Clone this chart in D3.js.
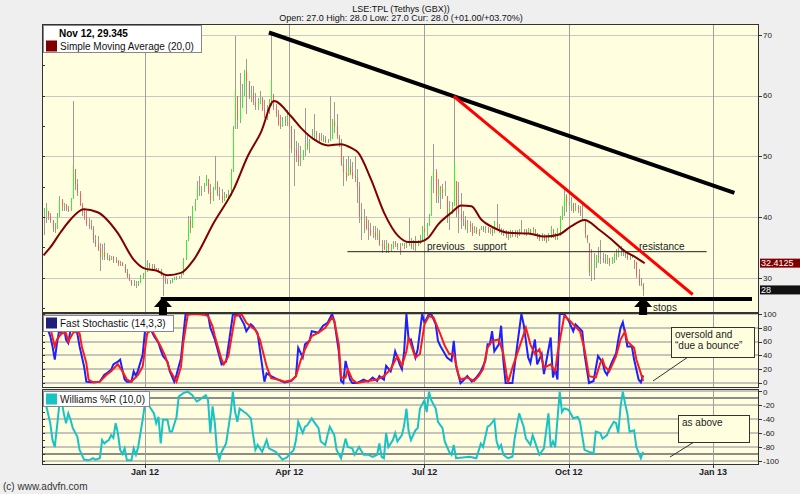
<!DOCTYPE html>
<html><head><meta charset="utf-8">
<script src="https://cdn.jsdelivr.net/npm/d3@7"></script>
<style>
body{margin:0;background:#efefef;}
svg{display:block;font-family:"Liberation Sans",Arial,sans-serif;}
</style>
</head><body>
<svg id="c" width="800" height="494"></svg>
<script>
// ---------- DATA (bar index = trading day from first bar) ----------
const highs = [
41.5,42.4,41,40.7,39.6,39,40.7,43.5,43,42.4,
42.2,41.8,43.2,59.1,48,46.2,44.3,42.4,41.5,41,
39.8,39.6,38.5,37,36.9,35.8,35.5,35.8,34.1,33.8,
33.6,33.6,33.4,33,32.8,32.6,32.2,31.4,30.6,29.7,
29.7,29.4,29.4,30.5,30.8,31.4,33,32.5,32.3,32.2,
31.6,31.6,31.4,30.5,30.3,29.8,29.6,29.9,30.2,30.3,
30.3,30.6,33.3,36.3,40.2,40.2,41.8,43,46,46.8,
45.1,45.6,47,46.2,45.4,45,50,46,45,44.6,
44.1,43.8,44.5,47.9,55,69.8,60,63.8,62,64.3,
66,62.4,61.6,61.6,60.5,59.6,60.8,59.7,59.3,58.5,
59.5,70.4,60.2,58.6,57.7,56.8,56.5,56.6,57.7,57,
55,54.5,52.5,52.2,51.7,51.1,58,53.5,52.8,54.5,
56.9,54.2,53.9,53.9,53.6,53.3,52.8,59.9,56.1,58.9,
56.9,53.5,52.8,50,49.5,50,49.6,49,50,47.9,
45.7,42.4,41.3,40.2,39.6,39.1,38.6,38.5,38.2,37.9,
36.3,36.2,36.3,35.8,35.6,36.1,36,35.8,35.8,35.8,
35.8,36,39.9,36.6,36.2,36.9,36.3,37,38.5,39.9,
39.1,40.5,46.8,52,48,46.2,45.1,45.5,46,43.5,
42.7,42.5,59.7,46,45.7,44,41,40.2,39.6,39.3,
39.1,38.5,38.3,38,38.5,38.6,38.5,38.3,38.2,38.5,
39.4,42.1,38.8,38.2,38,37.9,37.7,37.9,37.8,37.9,
37.8,38,39.6,38,38,38.2,38,38.3,38,37.4,
37.2,37.4,37.2,37,37.4,38.5,38,37.4,38.2,40.2,
41.8,44.6,43.8,42.9,43.3,42.4,42.4,42,41.8,42.4,
39.6,37,35.8,34.7,34.1,33.8,35,36.3,34.1,33.9,
33.8,33.3,33.5,34.1,34.7,34.9,35.2,34.7,34.4,34.1,
33.8,33.8,33,32.6,31.4,30,29.2];
const lows = [
37,39,39.5,39,37.5,37.4,38,40,41,41,
41,40.8,41,43,44.5,43.5,41.8,40.2,39.6,38.5,
38,37.9,35.8,35,34.4,31.1,33,33,33,32.8,
32.9,32.5,32.5,32,31.9,31.9,30.8,30,29.4,28.6,
28.6,28.4,28.6,29.2,29.8,30.3,31,31.4,31.5,31.4,
31.1,30.8,30.3,27,29,28.9,28.9,29.2,29.6,29.7,
29.8,30,30.5,33,36,37.4,38.2,41,42.8,43.5,
43.5,44.2,45.1,43.8,42.1,42.6,44.5,43.5,42.8,42.4,
42.7,43.2,43,43.5,47.5,54.5,54.5,55.5,58,60,
56.9,59.4,59,58.5,57.7,57.7,58.6,57.5,56.3,56,
56.9,58.3,57.7,56.5,55,54.5,54.8,55,55,54.5,
50.6,45.1,49,48.4,48.4,49.4,50,51,50.6,53,
52.8,52.5,52.2,52.5,52.3,52.2,52.2,52.5,52.8,53.9,
52.8,51.5,48.4,45.1,46,46.8,47,46.2,45.7,42.4,
39.1,36.3,37.4,37.9,36.3,36.9,36.5,36.3,36.3,35.2,
34.1,34.5,34.1,34.1,34.4,34.7,35,34.5,33.8,35.2,
34.8,34.9,35.2,34.7,34.6,34.4,35.2,35.6,36.3,36.3,
36.9,38.5,40.2,44,42.4,42.4,41.3,43,43.5,39.1,
37.9,40.5,41.8,40,37.4,38,38.6,37.9,37.4,37.6,
36.9,37.4,37.2,36.9,37.9,37.5,37.4,37.4,37.2,36.9,
37.3,38,37.4,37.1,36.9,36.6,36.3,36.6,36.8,36.7,
36.6,36.9,37.4,37,36.9,37.2,37.1,37,37.2,36.4,
36,36,36.1,35.8,36,36.6,36.6,36.3,36.3,36.9,
39.6,40.2,40.8,41.3,41,40.7,41,40.6,40.2,39.6,
36.6,35.8,30.3,29.5,29.7,31.6,32.5,32.2,32.5,32.3,
32.2,31.9,32.3,32.5,33,33.4,33.6,33.6,33.3,33,
33,33.3,31.4,30,28.6,28.6,27];
const closes = [
40.5,41.5,40.2,39.5,38,37.8,40,42.8,41.8,42,
41.3,41,43,48.4,45.5,44,42,40.8,40,38.8,
38.5,38.2,36.2,35.4,34.8,33.5,34.2,33.4,33.2,33,
33.5,33,32.8,32.2,32.4,32,31,30.2,29.6,29,
28.8,29,29.2,30.2,30.4,31.2,32.6,31.8,32,31.6,
31.3,31,30.5,29.8,29.3,29.1,29.2,29.6,30,29.9,
30.2,30.5,33,36,39.5,38.2,41.5,42.5,45,44.6,
44.8,45.2,46.6,44.2,42.8,44.5,45.6,43.8,43.5,42.8,
43.6,43.3,43.8,47.5,54.5,61,56,58,60.5,64,
62.4,59.8,60.5,59,58.2,58.8,59.6,57.8,56.6,57.5,
59.2,62.6,58.2,57,55.4,55,56,55.6,56.8,55,
51.2,51,50,49,49.4,51,52,51.6,52.5,53.6,
53.8,53.5,52.6,53,52.8,52.5,52.6,53,55.8,55,
53.2,52,48.8,47.5,46.5,48.2,47.5,46.8,46.4,45,
40,39.5,39.8,38.2,37.8,37.2,37.6,36.8,37.3,35.5,
35.2,34.8,35.6,34.6,35,35.8,35.6,35,34.4,35.4,
35.2,35.6,35.6,35,35.5,35.2,35.8,36.6,38.2,37.5,
38.8,40.2,46.2,47.5,43.5,45,44.6,44,44.8,40,
41.5,41.8,48.9,42,40.5,39.5,39.4,38.2,38.8,38.4,
37.2,38,37.5,37.2,38.4,37.9,37.8,37.6,37.9,37.3,
39.2,38.4,37.8,37.4,37.6,36.9,36.8,37.4,37.1,37.6,
37,37.5,37.8,37.8,37.6,38,37.4,38.1,37.6,36.7,
36.4,36.8,36.3,36.1,36.6,38.2,37,36.6,37.8,40,
41.6,43.5,42.5,42,42.6,41,41.6,41.2,40.6,40.8,
37.2,36.2,31,32,32.4,33.6,33.4,33.2,33,32.6,
33.2,32.4,33.2,34,33.6,34.5,35,34.2,33.6,33.3,
33.4,33.5,32.6,30.4,29,28.8,28];

// Simple Moving Average (20,0): [bar index, value]
const sma20 = [[0,33.7],[3,35],[7.6,37.5],[12,39.6],[17.8,41.3],[24,40.8],[32.9,37.4],[40,33],[44.4,31.6],[50.7,31.1],[55,30.4],[61,30.8],[66.7,33],[75.6,39.1],[84.4,44.6],[90.7,50.1],[96.4,53.9],[102.2,59.1],[109.8,56.6],[114.2,54.7],[120,52.8],[126.2,51.8],[132,52],[136.4,51.4],[139.6,50.6],[145.3,46.2],[151.1,40.7],[157.3,36.9],[161.8,35.9],[166.2,35.9],[170.7,36.6],[175.1,38.8],[180.9,40.7],[185.3,41.9],[189.8,41.8],[194.2,39.6],[200,38.2],[206.2,37.4],[215.1,37.3],[222.2,36.8],[228.4,37.1],[234.2,38.5],[240,39.5],[246.2,38],[252,36.3],[257.8,34.4],[262.2,33.5],[266.7,32.4]];

// Fast Stochastic (14,3,3)
const stochK = [[0,99],[1,92],[2,77],[3,68],[4,53],[5,34],[6,58],[7,77],[8,72],[9,82],[10,63],[11,58],[12,77],[13,80],[15,72],[16,53],[18,24],[19,2],[21,1],[23,1],[25,2],[27,12],[28,14],[30,19],[31,27],[33,31],[34,34],[35,19],[36,5],[37,2],[39,2],[40,17],[41,10],[42,19],[44,41],[45,75],[46,80],[48,75],[49,68],[51,58],[52,48],[53,39],[55,31],[56,17],[58,2],[59,12],[61,36],[62,68],[63,99],[65,100],[70,100],[73,99],[74,80],[75,72],[76,63],[78,39],[79,27],[81,31],[82,53],[84,99],[86,100],[87,97],[89,85],[90,75],[92,85],[93,82],[95,72],[96,48],[98,2],[99,14],[101,10],[104,5],[107,1],[110,3],[112,10],[113,51],[115,37],[116,56],[118,61],[119,75],[122,73],[124,83],[126,87],[128,100],[129,90],[131,46],[132,3],[133,0],[134,32],[136,5],[137,0],[139,0],[142,5],[144,2],[146,8],[148,3],[149,10],[151,5],[152,25],[154,17],[155,29],[156,46],[158,27],[159,20],[160,46],[161,100],[162,61],[163,63],[165,37],[166,49],[167,75],[168,100],[169,87],[171,100],[172,100],[174,85],[175,61],[176,54],[179,37],[181,32],[182,61],[183,25],[185,0],[186,3],[188,10],[190,2],[192,8],[194,17],[196,32],[197,56],[198,56],[199,75],[200,46],[202,56],[203,83],[204,32],[205,0],[208,0],[210,51],[212,100],[213,85],[215,37],[216,29],[218,63],[219,27],[221,42],[222,13],[225,66],[226,8],[227,20],[228,5],[229,100],[231,100],[233,90],[235,75],[236,85],[239,75],[240,42],[242,0],[244,3],[246,39],[248,30],[249,17],[250,12],[252,29],[254,43],[255,63],[256,80],[257,88],[258,72],[259,53],[261,53],[262,34],[264,5],[265,1],[266,11]];
const stochD = [[0,99],[2,94],[3,80],[5,53],[6,63],[8,72],[10,72],[11,60],[13,72],[14,75],[16,72],[17,53],[19,29],[20,5],[22,1],[25,2],[28,12],[30,17],[32,24],[33,27],[35,17],[37,5],[39,2],[42,12],[44,24],[46,72],[48,77],[50,65],[52,53],[54,39],[56,19],[59,2],[61,24],[62,58],[64,99],[67,100],[71,99],[73,97],[75,82],[76,68],[79,34],[80,27],[82,39],[85,97],[88,99],[90,87],[92,82],[94,77],[96,63],[99,24],[101,7],[104,5],[107,2],[110,4],[112,10],[114,32],[116,49],[119,68],[122,73],[125,80],[128,95],[129,90],[131,56],[132,8],[134,8],[135,20],[137,5],[139,0],[144,3],[148,5],[151,10],[154,20],[157,39],[159,25],[161,46],[162,66],[164,46],[165,37],[167,42],[169,85],[171,97],[173,95],[176,71],[178,54],[180,42],[182,42],[184,13],[185,5],[188,8],[191,3],[193,10],[195,20],[197,51],[199,61],[202,63],[204,42],[206,0],[208,22],[211,51],[214,80],[216,56],[218,42],[220,49],[222,22],[225,27],[227,17],[228,42],[231,97],[233,92],[235,85],[238,75],[240,49],[242,10],[245,8],[247,29],[248,34],[249,24],[251,17],[254,39],[256,63],[258,75],[259,60],[262,51],[263,34],[265,14],[266,3]];

// Williams %R (10,0)
const willR = [[0,-6],[1,-18],[3,-46],[4,-70],[5,-80],[6,-51],[7,-20],[8,-13],[9,-32],[10,-46],[11,-32],[12,-41],[13,-53],[15,-65],[16,-84],[18,-98],[20,-99],[22,-96],[23,-98],[25,-96],[26,-70],[27,-75],[28,-72],[29,-70],[30,-63],[31,-67],[32,-46],[33,-60],[34,-84],[35,-90],[36,-82],[37,-99],[39,-99],[40,-82],[41,-91],[42,-80],[44,-41],[45,-18],[46,-8],[47,-22],[49,-32],[50,-46],[51,-37],[52,-75],[53,-41],[55,-41],[56,-58],[57,-58],[59,-37],[60,-8],[62,-3],[64,-1],[66,-6],[68,-15],[69,-13],[72,-6],[73,-13],[74,-60],[75,-22],[76,-46],[77,-87],[78,-98],[79,-87],[81,-75],[83,-32],[84,-1],[85,-30],[86,-44],[87,-25],[89,-30],[90,-32],[92,-39],[93,-63],[94,-84],[95,-77],[97,-87],[99,-70],[100,-82],[103,-87],[105,-94],[106,-98],[108,-95],[109,-91],[111,-84],[112,-70],[113,-44],[115,-60],[116,-51],[117,-49],[119,-39],[120,-44],[122,-53],[123,-72],[125,-77],[126,-63],[127,-51],[129,-63],[130,-84],[132,-96],[134,-68],[135,-80],[137,-82],[138,-91],[140,-80],[142,-91],[144,-91],[146,-94],[148,-91],[149,-75],[150,-94],[151,-96],[152,-60],[153,-80],[155,-70],[156,-60],[157,-72],[159,-63],[160,-49],[161,-25],[162,-58],[163,-70],[165,-56],[166,-53],[167,-25],[169,-13],[170,-30],[171,-1],[172,-13],[174,-25],[175,-44],[177,-53],[178,-72],[180,-87],[181,-91],[182,-77],[183,-96],[186,-95],[189,-94],[192,-96],[194,-75],[195,-80],[197,-51],[198,-49],[200,-41],[201,-72],[202,-82],[203,-77],[204,-91],[206,-96],[208,-94],[209,-68],[211,-32],[213,-51],[214,-68],[216,-77],[217,-63],[219,-82],[220,-91],[222,-82],[224,-32],[225,-80],[226,-72],[227,-80],[229,-1],[230,-30],[231,-25],[233,-27],[235,-39],[237,-37],[238,-44],[240,-84],[242,-87],[244,-89],[245,-58],[247,-60],[248,-68],[250,-63],[251,-55],[253,-44],[254,-46],[255,-60],[256,-22],[257,-1],[258,-18],[259,-32],[260,-58],[262,-56],[263,-80],[265,-96],[266,-87]];

const monthTicks = [[45,"Jan 12"],[109,"Apr 12"],[169,"Jul 12"],[233,"Oct 12"],[297,"Jan 13"]];
const priceTicks = [30,40,50,60,70];
const stochTicks = [0,20,40,60,80,100];
const willTicks = [0,-20,-40,-60,-80,-100];
const willBands = [-10,-90];
const lastSMA = 32.4125, lastClose = 28;
const trendBlack = [[100,70.4],[306.5,44.0]];
const trendRed = [[182,59.9],[288,27.25]];
const supportLine = [[134.8,34.3],[294.2,34.3]];
const stopsLine = [[52,26.5],[314.3,26.5]];
const arrowBars = [53,266];

// ---------- SCALES ----------
const svg = d3.select("#c");
const L = 42, R = 759;
const x  = d3.scaleLinear().domain([0,297]).range([43.5,713]);
const yP = d3.scaleLinear().domain([24.2,71.8]).range([313,24]);
const yS = d3.scaleLinear().domain([-7.2,101.4]).range([388,313]);
const yW = d3.scaleLinear().domain([-105.7,2.9]).range([465,389]);
const panels = [
  {id:"pm", y0:24, y1:313},
  {id:"ps", y0:313, y1:388},
  {id:"pw", y0:389, y1:465}
];
const defs = svg.append("defs");
panels.forEach(p=>{
  defs.append("clipPath").attr("id","clip-"+p.id).append("rect")
    .attr("x",L).attr("y",p.y0).attr("width",R-L).attr("height",p.y1-p.y0);
});

// ---------- TITLE ----------
svg.append("text").attr("x",401).attr("y",11.5).attr("text-anchor","middle")
  .attr("font-size",9).attr("fill","#111").text("LSE:TPL (Tethys (GBX))");
svg.append("text").attr("x",401).attr("y",21).attr("text-anchor","middle")
  .attr("font-size",9).attr("fill","#111").text("Open: 27.0 High: 28.0 Low: 27.0 Cur: 28.0 (+01.00/+03.70%)");

// ---------- PANEL BACKGROUNDS ----------
panels.forEach(p=>{
  svg.append("rect").attr("x",L).attr("y",p.y0).attr("width",R-L).attr("height",p.y1-p.y0)
    .attr("fill","#ffffe0");
});

// horizontal grids
const gm = svg.append("g").attr("shape-rendering","crispEdges");
priceTicks.forEach(v=>gm.append("line").attr("x1",L).attr("x2",R).attr("y1",Math.round(yP(v))+0.5).attr("y2",Math.round(yP(v))+0.5).attr("stroke","#c8c8c8"));
stochTicks.forEach(v=>gm.append("line").attr("x1",L).attr("x2",R).attr("y1",Math.round(yS(v))).attr("y2",Math.round(yS(v))).attr("stroke","#c4c4bc").attr("stroke-width",2));
willTicks.forEach(v=>gm.append("line").attr("x1",L).attr("x2",R).attr("y1",Math.round(yW(v))).attr("y2",Math.round(yW(v))).attr("stroke","#c4c4bc").attr("stroke-width",2));
willBands.forEach(v=>gm.append("line").attr("x1",L).attr("x2",R).attr("y1",Math.round(yW(v))).attr("y2",Math.round(yW(v))).attr("stroke","#8c8c8c").attr("stroke-width",2));
// vertical month grid
monthTicks.forEach(([i])=>{
  panels.forEach(p=>{
    gm.append("line").attr("x1",Math.round(x(i))+0.5).attr("x2",Math.round(x(i))+0.5)
      .attr("y1",p.y0).attr("y2",p.y1).attr("stroke","#a0a0a0");
  });
});

// ---------- PRICE BARS ----------
const gb = svg.append("g").attr("clip-path","url(#clip-pm)").attr("shape-rendering","crispEdges");
highs.forEach((h,i)=>{
  const xi = Math.round(x(i))+0.5;
  gb.append("line").attr("x1",xi).attr("x2",xi).attr("y1",yP(h)).attr("y2",yP(lows[i])).attr("stroke","#9a9a9a");
  const o = i>0 ? closes[i-1] : closes[i];
  const c = closes[i];
  if (o !== c) {
    const top = Math.min(h, Math.max(o,c)), bot = Math.max(lows[i], Math.min(o,c));
    if (top > bot) gb.append("line").attr("x1",xi).attr("x2",xi).attr("y1",yP(top)).attr("y2",yP(bot))
      .attr("stroke", c>o ? "#33f033" : "#ff5a5a");
  }
});

// SMA
const gl = svg.append("g").attr("clip-path","url(#clip-pm)");
gl.append("path").datum(sma20).attr("fill","none").attr("stroke","#800000").attr("stroke-width",2)
  .attr("d",d3.line().x(d=>x(d[0])).y(d=>yP(d[1])).curve(d3.curveMonotoneX));

// annotations in main panel
const seg = (g,pts,col,w)=>g.append("line").attr("x1",x(pts[0][0])).attr("y1",yP(pts[0][1]))
  .attr("x2",x(pts[1][0])).attr("y2",yP(pts[1][1])).attr("stroke",col).attr("stroke-width",w);
seg(gl,supportLine,"#222",1);
seg(gl,trendBlack,"#000",4);
seg(gl,trendRed,"#ff0000",3);
seg(svg,stopsLine,"#000",4);

svg.append("text").attr("x",427).attr("y",249.5).attr("font-size",10).attr("fill","#222")
  .attr("xml:space","preserve").style("white-space","pre").text("previous   support");
svg.append("text").attr("x",639).attr("y",250).attr("font-size",10).attr("fill","#222").text("resistance");

// ---------- STOCHASTIC ----------
const gs = svg.append("g").attr("clip-path","url(#clip-ps)");
const lineS = d3.line().x(d=>x(d[0])).y(d=>yS(d[1]));
gs.append("path").datum(stochK).attr("fill","none").attr("stroke","#1f1fff").attr("stroke-width",2).attr("d",lineS);
gs.append("path").datum(stochD).attr("fill","none").attr("stroke","#ff1a1a").attr("stroke-width",2).attr("d",lineS);

// ---------- WILLIAMS ----------
const gw = svg.append("g").attr("clip-path","url(#clip-pw)");
gw.append("path").datum(willR).attr("fill","none").attr("stroke","#19c3c3").attr("stroke-width",2)
  .attr("d",d3.line().x(d=>x(d[0])).y(d=>yW(d[1])));

// ---------- FRAMES & AXES ----------
panels.forEach(p=>{
  svg.append("rect").attr("x",L+0.5).attr("y",p.y0+0.5).attr("width",R-L-1).attr("height",p.y1-p.y0-1)
    .attr("fill","none").attr("stroke","#333").attr("shape-rendering","crispEdges");
});
const axG = svg.append("g").attr("font-size",8).attr("fill","#222");
function rightAxis(scale, ticks, nudge){
  ticks.forEach(v=>{
    const yy = Math.round(scale(v))+0.5;
    svg.append("line").attr("x1",R-1).attr("x2",R+3).attr("y1",yy).attr("y2",yy).attr("stroke","#333").attr("shape-rendering","crispEdges");
    const n = (nudge && nudge[v]) || 0;
    axG.append("text").attr("x",R+4).attr("y",scale(v)+n).attr("dy","0.35em").text(v);
  });
}
rightAxis(yP, priceTicks);
rightAxis(yS, stochTicks, {0:-0.8});
rightAxis(yW, willTicks, {0:0.8});
// left inner minor ticks
function leftTicks(scale, lo, hi, step){
  for(let v=lo; v<=hi; v+=step){
    const yy = Math.round(scale(v))+0.5;
    svg.append("line").attr("x1",L).attr("x2",L+3).attr("y1",yy).attr("y2",yy).attr("stroke","#333").attr("shape-rendering","crispEdges");
  }
}
leftTicks(yP,25,70,5);
leftTicks(yS,0,100,10);
leftTicks(yW,-100,0,10);
// last-value labels
[[lastSMA,"#800000",lastSMA.toFixed(4)],[lastClose,"#111",String(lastClose)]].forEach(([v,col,t])=>{
  svg.append("rect").attr("x",R+1).attr("y",yP(v)-4.5).attr("width",800-R-1).attr("height",9).attr("fill",col);
  svg.append("text").attr("x",R+2).attr("y",yP(v)).attr("dy","0.35em").attr("font-size",9).attr("fill","#fff").text(t);
});
// bottom axis
monthTicks.forEach(([i,lab])=>{
  const xx = Math.round(x(i))+0.5;
  svg.append("line").attr("x1",xx).attr("x2",xx).attr("y1",465).attr("y2",468).attr("stroke","#333");
  svg.append("text").attr("x",x(i)).attr("y",475).attr("text-anchor","middle").attr("font-size",9)
    .attr("font-weight","bold").attr("fill","#222").text(lab);
});

// ---------- ARROWS ----------
arrowBars.forEach(i=>{
  const cx = x(i), t = yP(stopsLine[0][1]) - 2;
  svg.append("path").attr("fill","#000")
    .attr("d",`M${cx},${t} L${cx+9},${t+10} L${cx+4},${t+10} L${cx+4},${t+18} L${cx-4},${t+18} L${cx-4},${t+10} L${cx-9},${t+10} Z`);
});
svg.append("text").attr("x",653).attr("y",311).attr("font-size",10).attr("fill","#222").text("stops");

// ---------- LEGENDS ----------
function legend(y0,w,h,col,title,label){
  svg.append("rect").attr("x",43.5).attr("y",y0+0.5).attr("width",w).attr("height",h)
    .attr("fill","#fff").attr("stroke","#888");
  let ty = y0;
  if (title){
    svg.append("text").attr("x",59).attr("y",y0+12).attr("font-size",10).attr("font-weight","bold").attr("fill","#000").text(title);
    ty = y0+13;
  }
  svg.append("rect").attr("x",46).attr("y",ty+2.5).attr("width",11).attr("height",11).attr("fill",col);
  svg.append("text").attr("x",60).attr("y",ty+12).attr("font-size",10).attr("fill","#111").text(label);
}
legend(25,158,27,"#800000","Nov 12, 29.345","Simple Moving Average (20,0)");
legend(315,130,16,"#20207a",null,"Fast Stochastic (14,3,3)");
legend(391,106,15,"#19c3c3",null,"Williams %R (10,0)");

// ---------- CALLOUTS ----------
function callout(bx,by,bw,bh,lines,lx1,ly1,lx2,ly2){
  svg.append("line").attr("x1",lx1).attr("y1",ly1).attr("x2",lx2).attr("y2",ly2).attr("stroke","#333");
  svg.append("rect").attr("x",bx+0.5).attr("y",by+0.5).attr("width",bw).attr("height",bh)
    .attr("fill","#ffffe0").attr("stroke","#333").attr("shape-rendering","crispEdges");
  lines.forEach((t,k)=>svg.append("text").attr("x",bx+4).attr("y",by+11+k*11).attr("font-size",10).attr("fill","#222").text(t));
}
callout(671,327,83,30,["oversold and","\u201cdue a bounce\u201d"],688,357,653,381);
callout(678,415,71,27,["as above"],694,442,670,457);

// copyright
svg.append("text").attr("x",3).attr("y",490).attr("font-size",10).attr("fill","#333").text("(c) www.advfn.com");
</script>
</body></html>
